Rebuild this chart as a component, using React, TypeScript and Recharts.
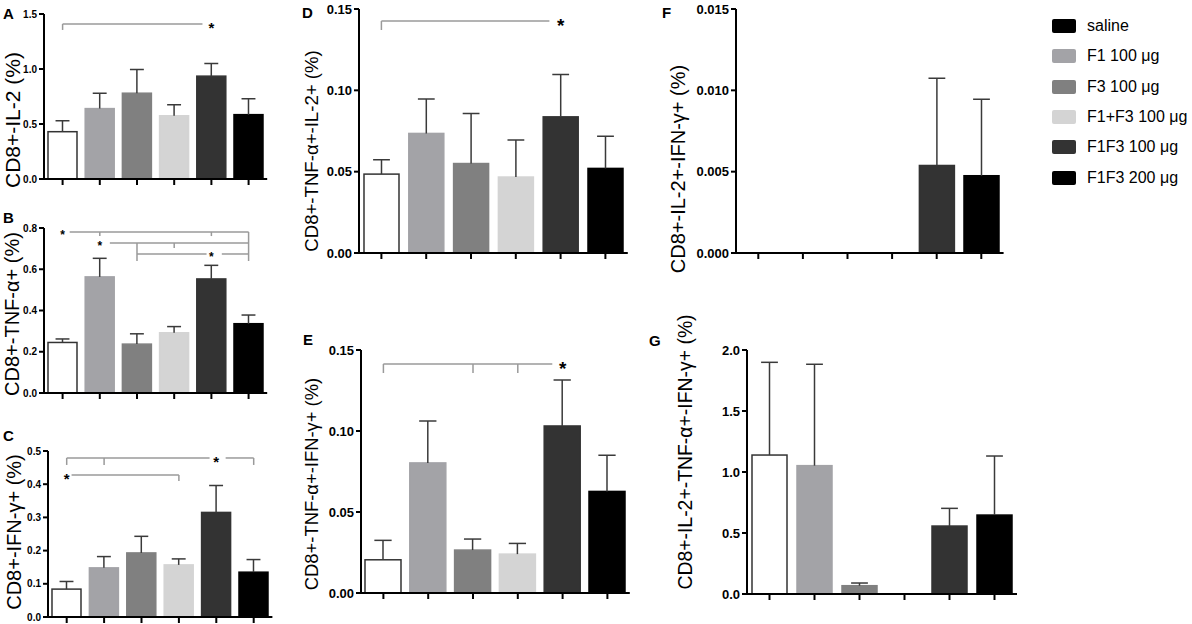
// Cytokine-positive CD8+ T cell panels (A–G) — Recharts bar charts with SEM whiskers
import React from 'react';
import { BarChart, Bar, Cell, XAxis, YAxis, ReferenceLine, ReferenceDot } from 'recharts';

// ---------------------------------------------------------------------------
// data
// ---------------------------------------------------------------------------

const GROUPS = ['saline', 'F1 100 μg', 'F3 100 μg', 'F1+F3 100 μg', 'F1F3 100 μg', 'F1F3 200 μg'];

const BAR_FILLS = ['#ffffff', '#a3a3a7', '#808080', '#d4d4d4', '#333333', '#000000'];
const LEGEND_FILLS = ['#000000', '#a3a3a7', '#808080', '#d4d4d4', '#333333', '#000000'];

const IL2_MEAN = [0.43, 0.64, 0.78, 0.575, 0.935, 0.585];
const IL2_SEM = [0.1, 0.14, 0.215, 0.1, 0.115, 0.145];
const TNF_MEAN = [0.245, 0.563, 0.237, 0.292, 0.553, 0.336];
const TNF_SEM = [0.017, 0.09, 0.05, 0.03, 0.066, 0.042];
const IFN_MEAN = [0.084, 0.148, 0.193, 0.157, 0.315, 0.135];
const IFN_SEM = [0.023, 0.034, 0.05, 0.018, 0.081, 0.038];
const TNF_IL2_MEAN = [0.0485, 0.0735, 0.055, 0.0467, 0.0837, 0.052];
const TNF_IL2_SEM = [0.0088, 0.0212, 0.0307, 0.0227, 0.026, 0.0198];
const TNF_IFN_MEAN = [0.0205, 0.0803, 0.0265, 0.024, 0.1031, 0.0627];
const TNF_IFN_SEM = [0.012, 0.0259, 0.0068, 0.0066, 0.0284, 0.0224];
const IL2_IFN_MEAN = [0, 0, 0, 0, 0.00538, 0.00475];
const IL2_IFN_SEM = [0, 0, 0, 0, 0.00536, 0.0047];
const TRIPLE_MEAN = [1.139, 1.052, 0.068, 0, 0.557, 0.647];
const TRIPLE_SEM = [0.76, 0.831, 0.022, 0, 0.145, 0.484];

const TICKS_A = [0, 0.5, 1.0, 1.5];
const TICKS_B = [0, 0.2, 0.4, 0.6, 0.8];
const TICKS_C = [0, 0.1, 0.2, 0.3, 0.4, 0.5];
const TICKS_DE = [0, 0.05, 0.1, 0.15];
const TICKS_F = [0, 0.005, 0.01, 0.015];
const TICKS_G = [0, 0.5, 1.0, 1.5, 2.0];

// significance brackets, [x1, y1, x2, y2] in (group index, value)
const LINES_A = [[0, 1.355, 0, 1.409], [0, 1.409, 3.76, 1.409]];
const STARS_A = [[4, 1.409]];
const LINES_B = [
  [0.19, 0.781, 5, 0.781], [1, 0.781, 1, 0.761], [4, 0.781, 4, 0.761], [5, 0.781, 5, 0.64],
  [1.27, 0.727, 5, 0.727], [2, 0.727, 2, 0.64], [3, 0.727, 3, 0.703],
  [2, 0.674, 3.87, 0.674], [4.28, 0.674, 5, 0.674],
];
const STARS_B = [[0, 0.781], [1, 0.727], [4, 0.674]];
const LINES_C = [
  [0, 0.479, 3.82, 0.479], [4.25, 0.479, 5, 0.479],
  [0, 0.479, 0, 0.458], [1, 0.479, 1, 0.458], [5, 0.479, 5, 0.458],
  [0.13, 0.428, 3, 0.428], [3, 0.428, 3, 0.41],
];
const STARS_C = [[4, 0.479], [0, 0.428]];
const LINES_D = [[0, 0.1371, 0, 0.1426], [0, 0.1426, 3.75, 0.1426]];
const STARS_D = [[4, 0.1426]];
const LINES_E = [
  [0, 0.1414, 3.77, 0.1414], [0, 0.1414, 0, 0.1358], [2, 0.1414, 2, 0.1358], [3, 0.1414, 3, 0.1358],
];
const STARS_E = [[4, 0.1414]];

// ---------------------------------------------------------------------------
// layout
// ---------------------------------------------------------------------------

const FONT = '"Liberation Sans", Arial, Helvetica, sans-serif';
const MT = 8;
const MR = 4;
const XH = 10;

type PanelDef = {
  letter: string;
  label: string;
  mean: number[];
  sem: number[];
  ticks: number[];
  digits: number;
  lines: number[][];
  stars: number[][];
  left: number;
  top: number;
  w: number;
  h: number;
  bar: number;
  yw: number;
  tickFont: number;
  starFont: number;
  letterPos: [number, number];
  labelPos: [number, number];
  labelFont: number;
};

const PANELS: PanelDef[] = [
  {
    letter: 'A', label: 'CD8+-IL-2 (%)', mean: IL2_MEAN, sem: IL2_SEM, ticks: TICKS_A, digits: 1,
    lines: LINES_A, stars: STARS_A,
    left: 44.4, top: 14, w: 223.2, h: 165, bar: 29, yw: 40, tickFont: 10, starFont: 15,
    letterPos: [3, 6], labelPos: [12, 120], labelFont: 21,
  },
  {
    letter: 'B', label: 'CD8+-TNF-α+ (%)', mean: TNF_MEAN, sem: TNF_SEM, ticks: TICKS_B, digits: 1,
    lines: LINES_B, stars: STARS_B,
    left: 44.4, top: 228, w: 223.2, h: 165, bar: 29, yw: 40, tickFont: 10, starFont: 12,
    letterPos: [3, 210], labelPos: [12, 314], labelFont: 20,
  },
  {
    letter: 'C', label: 'CD8+-IFN-γ+ (%)', mean: IFN_MEAN, sem: IFN_SEM, ticks: TICKS_C, digits: 1,
    lines: LINES_C, stars: STARS_C,
    left: 48.3, top: 451, w: 224.4, h: 166, bar: 29, yw: 40, tickFont: 10, starFont: 15,
    letterPos: [3, 428], labelPos: [14, 532], labelFont: 20,
  },
  {
    letter: 'D', label: 'CD8+-TNF-α+-IL-2+ (%)', mean: TNF_IL2_MEAN, sem: TNF_IL2_SEM, ticks: TICKS_DE, digits: 2,
    lines: LINES_D, stars: STARS_D,
    left: 358.6, top: 9, w: 268.8, h: 244, bar: 35, yw: 55, tickFont: 13, starFont: 19,
    letterPos: [302, 5], labelPos: [312, 151], labelFont: 18.6,
  },
  {
    letter: 'E', label: 'CD8+-TNF-α+-IFN-γ+ (%)', mean: TNF_IFN_MEAN, sem: TNF_IFN_SEM, ticks: TICKS_DE, digits: 2,
    lines: LINES_E, stars: STARS_E,
    left: 360.6, top: 350, w: 268.8, h: 243, bar: 36, yw: 55, tickFont: 13, starFont: 19,
    letterPos: [303, 332], labelPos: [312, 484], labelFont: 18.4,
  },
  {
    letter: 'F', label: 'CD8+-IL-2+-IFN-γ+ (%)', mean: IL2_IFN_MEAN, sem: IL2_IFN_SEM, ticks: TICKS_F, digits: 3,
    lines: [], stars: [],
    left: 735.7, top: 9, w: 267.6, h: 244, bar: 35, yw: 62, tickFont: 13, starFont: 17,
    letterPos: [662, 5], labelPos: [678, 169], labelFont: 20,
  },
  {
    letter: 'G', label: 'CD8+-IL-2+-TNF-α+-IFN-γ+ (%)', mean: TRIPLE_MEAN, sem: TRIPLE_SEM, ticks: TICKS_G, digits: 1,
    lines: [], stars: [],
    left: 746.5, top: 350, w: 270, h: 244, bar: 35, yw: 55, tickFont: 13, starFont: 17,
    letterPos: [649, 333], labelPos: [686, 452], labelFont: 19.4,
  },
];

// ---------------------------------------------------------------------------
// marks
// ---------------------------------------------------------------------------

// bar + upper SEM whisker; whisker length scaled off the bar's own pixel height
function BarWithWhisker(props: any) {
  const { x, y, width, height, fill, stroke, payload } = props;
  const mean: number = payload.mean;
  const sem: number = payload.sem;
  const cx = x + width / 2;
  const cap = width * 0.24;
  const top = mean > 0 ? y - (sem * height) / mean : y;
  return (
    <g>
      {height > 0 && (
        <rect x={x} y={y} width={width} height={height} fill={fill} stroke={stroke} strokeWidth={1.5} />
      )}
      {sem > 0 && mean > 0 && (
        <g stroke="#3a3a3a" strokeWidth={1.5}>
          <line x1={cx} x2={cx} y1={y} y2={top} />
          <line x1={cx - cap} x2={cx + cap} y1={top} y2={top} />
        </g>
      )}
    </g>
  );
}

function Panel({ p }: { p: PanelDef }) {
  const rows = GROUPS.map((name, i) => ({ name, pos: i, mean: p.mean[i], sem: p.sem[i] }));
  const width = p.yw + p.w + MR;
  const height = MT + p.h + XH;
  const max = p.ticks[p.ticks.length - 1];

  return (
    <div style={{ position: 'absolute', left: p.left - p.yw, top: p.top - MT }}>
      <BarChart width={width} height={height} data={rows} margin={{ top: MT, right: MR, bottom: 0, left: 0 }}>
        <XAxis
          xAxisId="cat"
          dataKey="name"
          height={XH}
          interval={0}
          tickSize={6}
          tick={() => <g />}
          axisLine={{ stroke: '#000', strokeWidth: 2 }}
          tickLine={{ stroke: '#000', strokeWidth: 2 }}
        />
        <XAxis xAxisId="pos" type="number" dataKey="pos" domain={[-0.5, 5.5]} allowDataOverflow hide />
        <YAxis
          domain={[0, max]}
          ticks={p.ticks}
          interval={0}
          allowDataOverflow
          width={p.yw}
          tickSize={5}
          tickMargin={2}
          tickFormatter={(v: number) => v.toFixed(p.digits)}
          tick={{ fontSize: p.tickFont, fontWeight: 700, fill: '#000', fontFamily: FONT }}
          axisLine={{ stroke: '#000', strokeWidth: 2 }}
          tickLine={{ stroke: '#000', strokeWidth: 2 }}
        />
        <Bar
          xAxisId="cat"
          dataKey="mean"
          barSize={p.bar}
          isAnimationActive={false}
          shape={(props: any) => <BarWithWhisker {...props} />}
        >
          {rows.map((r, i) => (
            <Cell key={r.name} fill={BAR_FILLS[i]} stroke={i === 0 ? '#333333' : BAR_FILLS[i]} />
          ))}
        </Bar>
        {p.lines.map((s, i) => (
          <ReferenceLine
            key={`l${i}`}
            xAxisId="pos"
            segment={[{ x: s[0], y: s[1] }, { x: s[2], y: s[3] }]}
            stroke="#9a9a9a"
            strokeWidth={1.5}
            ifOverflow="visible"
          />
        ))}
        {p.stars.map((s, i) => (
          <ReferenceDot
            key={`s${i}`}
            xAxisId="pos"
            x={s[0]}
            y={s[1]}
            r={0}
            ifOverflow="visible"
            shape={(d: any) => (
              <text
                x={d.cx}
                y={d.cy + p.starFont * 0.58}
                textAnchor="middle"
                fontSize={p.starFont}
                fontWeight={700}
                fontFamily={FONT}
                fill="#000"
              >
                *
              </text>
            )}
          />
        ))}
      </BarChart>
    </div>
  );
}

export default function App() {
  return (
    <div
      style={{
        position: 'absolute',
        left: 0,
        top: 0,
        width: 1192,
        height: 624,
        background: '#fff',
        fontFamily: FONT,
        color: '#000',
        overflow: 'hidden',
      }}
    >
      {PANELS.map((p) => (
        <React.Fragment key={p.letter}>
          <Panel p={p} />
          <div
            style={{
              position: 'absolute',
              left: p.letterPos[0],
              top: p.letterPos[1],
              fontSize: 15,
              fontWeight: 700,
              lineHeight: 1,
            }}
          >
            {p.letter}
          </div>
          <div
            style={{
              position: 'absolute',
              left: p.labelPos[0],
              top: p.labelPos[1],
              transform: 'translate(-50%, -50%) rotate(-90deg)',
              fontSize: p.labelFont,
              lineHeight: 1,
              whiteSpace: 'nowrap',
            }}
          >
            {p.label}
          </div>
        </React.Fragment>
      ))}
      {GROUPS.map((g, i) => (
        <div
          key={g}
          style={{
            position: 'absolute',
            left: 1052,
            top: 16 + i * 30.3,
            height: 20,
            display: 'flex',
            alignItems: 'center',
            whiteSpace: 'nowrap',
          }}
        >
          <span
            style={{
              display: 'inline-block',
              width: 24,
              height: 14,
              borderRadius: 2,
              background: LEGEND_FILLS[i],
              marginRight: 11,
            }}
          />
          <span style={{ fontSize: 16 }}>{g}</span>
        </div>
      ))}
    </div>
  );
}
